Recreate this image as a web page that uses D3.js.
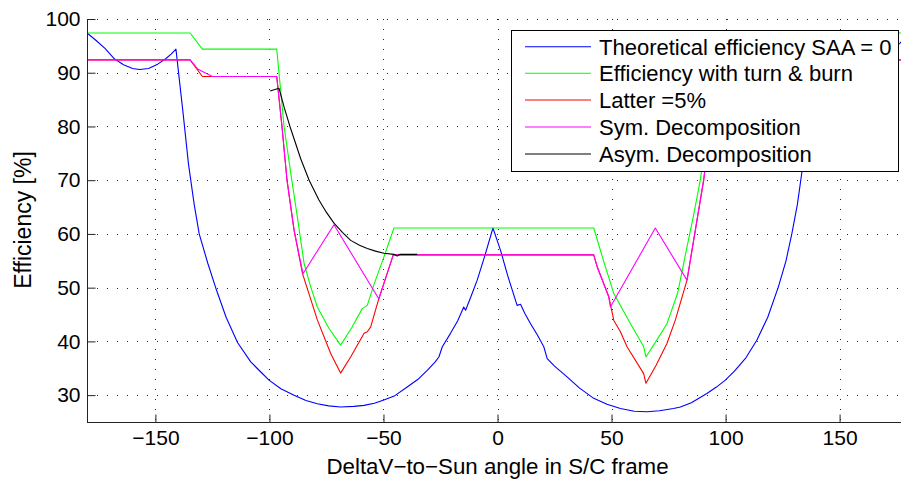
<!DOCTYPE html>
<html><head><meta charset="utf-8">
<script src="https://cdn.jsdelivr.net/npm/d3@7"></script>
<style>
body{margin:0;background:#fff;}
svg{display:block;font-family:"Liberation Sans",Arial,Helvetica,sans-serif;}
</style></head>
<body>
<svg id="chart" width="901" height="480"></svg>
<script>
// ---- data: [DeltaV-to-Sun angle (deg), efficiency (%)] ----
const xTicks = [-150,-100,-50,0,50,100,150];
const yTicks = [30,40,50,60,70,80,90,100];

const theoretical = [[-180,97.4],[-176,96.0],[-172,94.5],[-168,92.6],[-164,91.5],[-160,90.8],[-157,90.6],[-153,90.8],[-149,91.6],[-145.5,92.6],[-143,93.5],[-141,94.4],
 [-138,83],[-135.5,73],[-133,65.5],[-130.8,60],[-127,54.5],[-123.5,49.9],[-119,44.5],[-114,39.8],[-108.2,36.2],[-104,34.4],[-100.2,32.8],[-95,31.2],[-89.2,30.0],[-84,29.0],[-79,28.4],[-74,28.0],[-68.8,27.8],[-63,27.9],[-58.5,28.1],[-54,28.5],[-49.8,29.1],[-45,29.9],[-39.6,31.5],[-35,32.9],[-30.8,34.6],[-27.5,36.1],[-25.7,37.1],[-24.2,39.0],[-20.6,41.5],[-17.5,43.8],[-14.8,46.4],[-14,45.8],[-11.5,48.5],[-8.9,51.4],[-5.5,56],[-2,61.1],
 [1.3,57],[4.5,52.2],[8.6,46.7],[10.1,46.9],[12,45.2],[14.5,43.3],[17.5,41.2],[20.3,39.0],[21.8,36.8],[25,35.4],[30.5,33.4],[36,31.3],[42.2,29.4],[48,28.3],[53.9,27.5],[60,27.0],[65.6,26.9],[71,27.1],[77.2,27.5],[80.2,27.8],[85,28.6],[91.8,30.3],[96,31.5],[99.9,32.8],[104,34.5],[109,37.0],[113.7,40.2],[118.5,44.5],[123.2,50.2],[126.5,55],[129.1,60.1],[131.5,65.5],[133.5,71.6],[136,80],[138.5,88.5],[140.5,94.4],[144,92.8],[148,91.6],[153,90.8],[158,90.6],[163,91.2],[168,92.6],[172,94.0],[176.5,95.5],[180,97.2]];

const turnBurn = [[-180,97.4],[-134.8,97.4],[-129.4,94.4],[-96.8,94.4],[-93.6,80],[-90.2,70],[-87.7,63],[-84.8,54.5],[-82,50.3],[-79,46.4],[-74,42.5],[-68.8,39.3],[-64,42.5],[-59.3,46.1],[-57.1,46.7],[-54,50.8],[-50,55.5],[-45.4,61.1],
 [42.2,61.1],[46.5,55],[51,48.9],[53.9,46.7],[58,43.5],[62,40.6],[64.1,39],[65.1,37.1],[69.5,40],[74.3,43.3],[79,49],[83.1,57.6],[86,63.5],[88.9,70],[91,76],[94,86],[96.8,94.4],[129.4,94.4],[134.8,97.4],[180,97.4]];

const latter5 = [[-180,92.4],[-134.8,92.4],[-129.4,89.3],[-96.8,89.3],[-94.5,80],[-92.3,70],[-89.2,60.7],[-85.5,52.6],[-79,44],[-73.1,37.7],[-68.8,34.1],[-64.4,37.1],[-58.5,41.5],[-57.1,41.8],[-55.6,42.7],[-52,48],[-45.7,56.1],
 [42.2,56.1],[43.7,53.9],[48.8,48.3],[51,43.9],[53.9,41.8],[56.8,39],[64.1,34],[65.1,32.2],[69.5,35.5],[74.3,39.6],[78,44],[83.1,51.4],[87.5,62.6],[90.4,70],[93,79],[96.8,89.3],[129.4,89.3],[134.8,92.4],[180,92.4]];

const symDecomp = [[-180,92.4],[-134.8,92.4],[-131.5,90.7],[-125,89.3],[-96.8,89.3],[-94.5,80],[-92.3,70],[-89.2,60.7],[-85.3,52.6],[-71.7,61.7],[-52,47.9],[-45.7,56.1],
 [42.2,56.1],[43.7,53.9],[48.8,48.3],[49.5,46.4],[69.2,61.1],[83.1,51.4],[87.5,62.6],[90.4,70],[93,79],[96.8,89.3],[125,89.3],[131.5,90.7],[134.8,92.4],[180,92.4]];

const asymDecomp = [[-99.7,86.6],[-95.8,87.1],[-93.5,83.5],[-91,80],[-86.3,74],[-82.6,70],[-78.3,66.3],[-75,64],[-71.7,62],[-68,60.3],[-64.4,58.8],[-60.5,57.9],[-57.1,57.3],[-53.5,56.8],[-49.8,56.4],[-45.4,56.2],[-44,55.9],[-42.7,56.2],[-35.2,56.2]];

const seriesNames = ["Theoretical efficiency SAA = 0","Efficiency with turn & burn","Latter =5%","Sym. Decomposition","Asym. Decomposition"];
const seriesData = [theoretical, turnBurn, latter5, symDecomp, asymDecomp];
const seriesColors = ["#0000ff","#00ff00","#ff0000","#ff00ff","#000000"];

// ---- layout ----
const svg = d3.select("#chart");
const L = 87, R = 908, T = 19, B = 422, VIS_R = 901;
const x = d3.scaleLinear().domain([-180,180]).range([L,R]);
const y = d3.scaleLinear().domain([25,100]).range([B,T]);

svg.append("defs").append("clipPath").attr("id","plotclip")
  .append("rect").attr("x",L).attr("y",T).attr("width",VIS_R-L).attr("height",B-T);

// grid
const grid = svg.append("g").attr("stroke","#000").attr("stroke-width",1).attr("stroke-dasharray","1,9").attr("stroke-opacity",0.85);
grid.selectAll("line.v").data(xTicks).join("line")
  .attr("x1",d=>Math.round(x(d))+0.5).attr("x2",d=>Math.round(x(d))+0.5).attr("y1",T).attr("y2",B);
grid.selectAll("line.h").data(yTicks).join("line")
  .attr("y1",d=>Math.round(y(d))+0.5).attr("y2",d=>Math.round(y(d))+0.5).attr("x1",L).attr("x2",VIS_R);

// curves
const line = d3.line().x(d=>x(d[0])).y(d=>y(d[1]));
const curves = svg.append("g").attr("clip-path","url(#plotclip)");
seriesData.forEach((s,i)=>{
  curves.append("path").datum(s).attr("d",line).attr("fill","none")
    .attr("stroke",seriesColors[i]).attr("stroke-width",1.1).attr("stroke-linejoin","round");
});

// axes
const axisFont = 21;
const gy = svg.append("g").attr("transform",`translate(${L+0.5},0)`)
  .call(d3.axisLeft(y).tickValues(yTicks).tickSize(-8).tickPadding(7).tickFormat(d3.format("d")));
gy.select(".domain").attr("d",`M0,${T}V${B}`).attr("stroke","#222");
const gx = svg.append("g").attr("transform",`translate(0,${B+0.5})`)
  .call(d3.axisBottom(x).tickValues(xTicks).tickSize(-8).tickPadding(8).tickFormat(d3.format("d")));
gx.select(".domain").attr("d",`M${L},0H${VIS_R}`).attr("stroke","#222");
[gx,gy].forEach(g=>{
  g.selectAll("text").attr("font-size",axisFont).attr("fill","#000").attr("font-family",'"Liberation Sans",Arial,sans-serif');
  g.selectAll(".tick line").attr("stroke","#222");
});

// axis labels
svg.append("text").attr("x",(L+R)/2).attr("y",474).attr("text-anchor","middle")
  .attr("font-size",22.3).text("DeltaV\u2212to\u2212Sun angle in S/C frame");
svg.append("text").attr("transform","translate(31,220) rotate(-90)").attr("text-anchor","middle")
  .attr("font-size",23).text("Efficiency [%]");

// legend
const lg = svg.append("g");
lg.append("rect").attr("x",511.5).attr("y",30.5).attr("width",387).attr("height",141)
  .attr("fill","#fff").attr("stroke","#000").attr("stroke-width",1);
const rowY = [46.7,73.3,100,127,154];
seriesNames.forEach((n,i)=>{
  lg.append("line").attr("x1",525).attr("x2",591).attr("y1",rowY[i]).attr("y2",rowY[i])
    .attr("stroke",seriesColors[i]).attr("stroke-width",1.1);
  lg.append("text").attr("x",599).attr("y",rowY[i]).attr("dy","0.36em")
    .attr("font-size",22).attr("fill","#000").text(n);
});
</script>
</body></html>
